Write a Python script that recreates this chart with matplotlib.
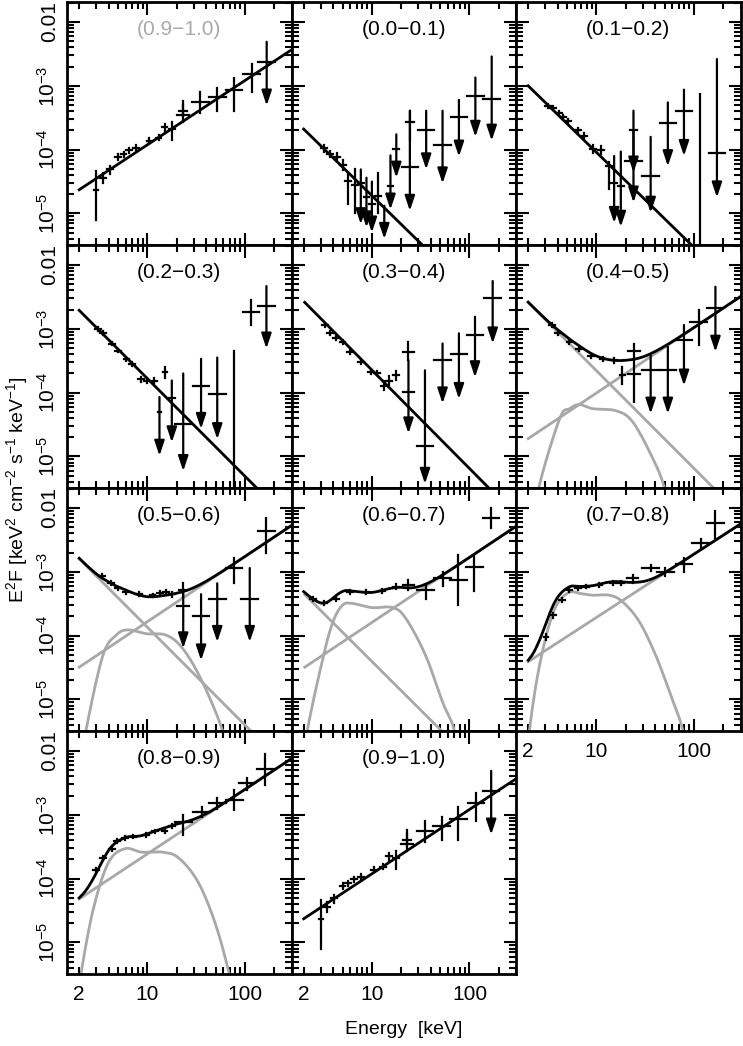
import numpy as np
import matplotlib
matplotlib.use("Agg")
import matplotlib.pyplot as plt
from matplotlib.ticker import FixedLocator, NullFormatter, FixedFormatter

plt.rcParams['font.family'] = ['Liberation Sans', 'DejaVu Sans']

# ---------------- data: (E [keV], log10 F, log10 upper, log10 lower/arrow tip, x half-width [dex], upper-limit flag)
P01 = [(3.2,-3.98,-3.93,-4.03,.03,0),(3.7,-4.07,-4.02,-4.12,.03,0),(4.4,-4.11,-4.05,-4.17,.03,0),
       (5.1,-4.24,-4.16,-4.32,.03,0),(5.7,-4.49,-4.36,-4.86,.03,0),(6.7,-4.56,-4.31,-5.0,.03,0),
       (7.7,-4.52,-4.31,-5.17,.03,1),(8.8,-4.75,-4.44,-5.22,.03,1),(10,-4.86,-4.5,-5.30,.03,1),
       (11.6,-4.72,-4.36,-5.0,.03,0),(13.4,-5.19,-4.88,-5.40,.03,1),(15.5,-4.57,-4.09,-4.94,.03,1),
       (17.8,-3.99,-3.76,-4.44,.03,1),(24.5,-3.57,-3.39,-3.86,.04,0),(24.5,-4.28,-3.39,-4.96,.085,1),
       (36,-3.69,-3.39,-4.31,.085,1),(53,-3.93,-3.39,-4.53,.085,1),(78,-3.49,-3.22,-4.11,.085,1),
       (115,-3.16,-2.87,-3.80,.085,1),(169,-3.21,-2.54,-3.86,.085,1)]
P12 = [(3.2,-3.31,-3.28,-3.34,.03,0),(3.6,-3.35,-3.32,-3.38,.03,0),(4.1,-3.42,-3.39,-3.45,.03,0),
       (4.6,-3.49,-3.46,-3.52,.03,0),(5.1,-3.55,-3.52,-3.58,.03,0),(6.5,-3.70,-3.66,-3.74,.03,0),
       (7.5,-3.78,-3.74,-3.82,.03,0),(9.2,-3.99,-3.93,-4.05,.03,0),(11.2,-4.01,-3.95,-4.07,.03,0),
       (13.6,-4.25,-4.20,-4.62,.03,0),(15.2,-4.52,-4.10,-5.15,.03,1),(17.8,-4.57,-4.03,-5.21,.03,1),
       (24,-3.70,-3.39,-4.36,.04,1),(24,-4.18,-3.70,-4.83,.085,1),(36,-4.42,-3.80,-4.99,.085,1),
       (54,-3.58,-3.26,-4.26,.085,1),(79,-3.40,-3.06,-4.10,.085,1),(115,np.nan,-3.13,-6.0,0,0),
       (172,-4.06,-2.58,-4.75,.085,1)]
P23 = [(3.1,-3.00,-2.97,-3.03,.03,0),(3.5,-3.07,-3.04,-3.10,.03,0),(4.3,-3.23,-3.20,-3.26,.03,0),
       (5.0,-3.34,-3.31,-3.37,.03,0),(6.1,-3.47,-3.44,-3.50,.03,0),(7.0,-3.55,-3.52,-3.58,.03,0),
       (8.6,-3.79,-3.75,-3.83,.03,0),(10,-3.81,-3.77,-3.85,.03,0),(11.8,-3.81,-3.77,-3.85,.03,0),
       (13.3,-4.31,-4.07,-4.99,.02,1),(15.2,-3.67,-3.60,-3.77,.02,0),(17.8,-4.09,-3.81,-4.78,.03,1),
       (23.3,-4.49,-3.70,-5.23,.085,1),(35.5,-3.89,-3.47,-4.57,.085,1),(52,-4.02,-3.45,-4.73,.085,1),
       (77,np.nan,-3.34,-6.0,0,0),(115,-2.73,-2.55,-2.94,.085,0),(166,-2.64,-2.33,-3.31,.085,1)]
P34 = [(3.3,-2.94,-2.91,-2.97,.03,0),(3.7,-3.07,-3.04,-3.10,.03,0),(4.3,-3.15,-3.12,-3.18,.03,0),
       (5.0,-3.21,-3.18,-3.24,.03,0),(5.9,-3.36,-3.33,-3.39,.03,0),(7.8,-3.52,-3.49,-3.55,.03,0),
       (9.8,-3.68,-3.65,-3.71,.03,0),(11.3,-3.69,-3.66,-3.72,.03,0),(13.4,-3.89,-3.82,-3.96,.03,0),
       (15.1,-3.81,-3.74,-3.88,.03,0),(17.6,-3.73,-3.66,-3.80,.03,0),(23.7,-3.36,-3.21,-3.49,.06,0),
       (23.7,-3.99,-3.49,-4.64,.06,1),(35,-4.83,-3.65,-5.43,.085,1),(53,-3.49,-3.23,-4.17,.085,1),
       (78,-3.40,-3.07,-4.10,.085,1),(114,-3.10,-2.81,-3.76,.085,1),(173,-2.52,-2.25,-3.23,.085,1)]
P45 = [(3.5,-2.94,-2.91,-2.97,.03,0),(4.0,-3.06,-3.03,-3.09,.03,0),(5.3,-3.21,-3.18,-3.24,.03,0),
       (6.7,-3.31,-3.28,-3.34,.03,0),(8.8,-3.42,-3.39,-3.45,.03,0),(11.6,-3.47,-3.44,-3.50,.03,0),
       (15.2,-3.49,-3.45,-3.53,.03,0),(18.5,-3.73,-3.60,-3.86,.03,0),(24.5,-3.35,-3.24,-3.45,.06,0),
       (24.5,-3.71,-3.47,-4.15,.06,0),(36,-3.65,-3.42,-4.33,.085,1),(54,-3.64,-3.28,-4.33,.085,1),
       (79,-3.18,-2.94,-3.89,.085,1),(112,-2.90,-2.71,-3.26,.085,0),(166,-2.68,-2.34,-3.36,.085,1)]
P56 = [(3.4,-3.06,-3.03,-3.09,.03,0),(4.2,-3.18,-3.15,-3.21,.03,0),(5.0,-3.26,-3.23,-3.29,.03,0),
       (6.0,-3.31,-3.28,-3.34,.03,0),(8.3,-3.35,-3.32,-3.38,.03,0),(11.3,-3.37,-3.34,-3.40,.03,0),
       (13.5,-3.33,-3.30,-3.36,.03,0),(15.5,-3.32,-3.29,-3.35,.03,0),(17.7,-3.35,-3.31,-3.39,.03,0),
       (23.3,-3.28,-3.18,-3.39,.04,0),(23.3,-3.53,-3.28,-4.20,.06,1),(35.5,-3.70,-3.35,-4.39,.085,1),
       (52,-3.42,-3.18,-4.10,.085,1),(77,-2.94,-2.79,-3.18,.085,0),(112,-3.42,-2.94,-4.10,.085,1),
       (166,-2.36,-2.16,-2.71,.085,0)]
P67 = [(2.5,-3.42,-3.39,-3.45,.03,0),(3.2,-3.49,-3.46,-3.52,.03,0),(4.3,-3.42,-3.39,-3.45,.03,0),
       (6.0,-3.32,-3.29,-3.35,.03,0),(8.7,-3.32,-3.29,-3.35,.03,0),(12.8,-3.30,-3.27,-3.33,.03,0),
       (17.5,-3.23,-3.19,-3.27,.03,0),(23.7,-3.21,-3.13,-3.28,.06,0),(35.5,-3.28,-3.20,-3.43,.085,0),
       (53,-3.09,-3.00,-3.22,.085,0),(77,-3.13,-2.74,-3.52,.085,0),(112,-2.92,-2.74,-3.30,.085,0),
       (166,-2.15,-2.00,-2.32,.085,0)]
P78 = [(3.06,-4.02,-3.97,-4.07,.02,0),(3.6,-3.68,-3.64,-3.72,.03,0),(4.4,-3.44,-3.41,-3.47,.03,0),
       (5.3,-3.28,-3.25,-3.31,.03,0),(6.5,-3.25,-3.22,-3.28,.03,0),(7.9,-3.23,-3.20,-3.26,.03,0),
       (10.6,-3.21,-3.18,-3.24,.03,0),(14.7,-3.18,-3.15,-3.21,.03,0),(17.8,-3.17,-3.14,-3.20,.03,0),
       (23.5,-3.10,-3.05,-3.17,.06,0),(36,-2.94,-2.90,-2.98,.085,0),(51,-3.00,-2.94,-3.07,.085,0),
       (79,-2.88,-2.78,-3.00,.085,0),(117,-2.55,-2.48,-2.63,.085,0),(166,-2.24,-2.05,-2.47,.085,0)]
P89 = [(3.0,-3.87,-3.84,-3.90,.03,0),(3.5,-3.68,-3.65,-3.71,.03,0),(4.3,-3.53,-3.50,-3.56,.03,0),
       (4.9,-3.41,-3.38,-3.44,.03,0),(5.9,-3.36,-3.33,-3.39,.03,0),(7.2,-3.34,-3.31,-3.37,.03,0),
       (9.7,-3.32,-3.29,-3.35,.03,0),(12,-3.26,-3.23,-3.29,.03,0),(15,-3.26,-3.23,-3.29,.03,0),
       (17.8,-3.18,-3.15,-3.21,.03,0),(23.4,-3.11,-3.00,-3.32,.085,0),(36,-2.95,-2.87,-3.03,.085,0),
       (52,-2.82,-2.74,-2.91,.085,0),(78,-2.77,-2.61,-2.92,.085,0),(105,-2.50,-2.42,-2.61,.085,0),
       (162,-2.28,-2.05,-2.53,.085,0)]
P91 = [(3.0,-4.64,-4.33,-5.10,.02,0),(3.5,-4.44,-4.37,-4.52,.03,0),(4.1,-4.31,-4.25,-4.38,.03,0),
       (5.0,-4.12,-4.07,-4.17,.03,0),(5.7,-4.07,-4.03,-4.11,.03,0),(6.5,-4.01,-3.97,-4.05,.03,0),
       (7.7,-3.97,-3.93,-4.01,.03,0),(10.5,-3.86,-3.82,-3.90,.03,0),(13,-3.81,-3.77,-3.85,.03,0),
       (15,-3.65,-3.60,-3.72,.03,0),(17.7,-3.68,-3.56,-3.85,.03,0),(23,-3.46,-3.23,-3.57,.06,0),
       (23,-3.39,-3.30,-3.48,.04,0),(35,-3.26,-3.10,-3.42,.085,0),(52,-3.18,-3.03,-3.39,.085,0),
       (77,-3.06,-2.87,-3.39,.085,0),(117,-2.81,-2.66,-3.09,.085,0),(167,-2.63,-2.31,-3.31,.085,1)]

# model components: power laws as end points (E, F); bumps as knots
SOFT = {'01': [(2, 2.1e-4), (31, 3.5e-6)], '12': [(2, 1.0e-3), (89, 3.5e-6)],
        '23': [(2, 1.95e-3), (132, 3.2e-6)], '34': [(2.05, 2.6e-3), (158, 3.2e-6)],
        '45': [(2, 2.6e-3), (159, 3.2e-6)], '56': [(2, 1.6e-3), (115, 3.2e-6)],
        '67': [(2.05, 4.4e-4), (49, 3.5e-6)]}
HARD = {'45': [(2, 1.9e-5), (245, 2.6e-3)], '56': [(2, 3.2e-5), (260, 4.6e-3)],
        '67': [(2.05, 3.2e-5), (251, 4.3e-3)], '78': [(2, 3.9e-5), (245, 4.6e-3)],
        '89': [(2, 4.8e-5), (245, 6.2e-3)], '91': [(2, 2.35e-5), (262, 3.2e-3)]}
BUMP = {'45': [(2.3, 8e-7), (2.6, 3.5e-6), (4.2, 3.9e-5), (5.3, 5.6e-5), (6.7, 6.5e-5), (9.2, 5.6e-5),
               (15.9, 5.2e-5), (23.5, 3.5e-5), (37, 1.0e-5), (49, 3.5e-6), (60, 8e-7)],
        '56': [(2.1, 8e-7), (2.37, 3.5e-6), (3.5, 4.9e-5), (4.8, 1.02e-4), (6.3, 1.23e-4), (9.8, 1.07e-4),
               (15.5, 1.02e-4), (23, 6.3e-5), (36.5, 1.9e-5), (59, 3.2e-6), (70, 8e-7)],
        '67': [(2.0, 8e-7), (2.2, 3.5e-6), (3.2, 4.9e-5), (4.0, 1.66e-4), (5.0, 3.0e-4), (6.3, 3.2e-4),
               (10, 2.75e-4), (16.3, 2.75e-4), (22.3, 1.86e-4), (35.5, 4.9e-5), (53, 9.1e-6),
               (69, 3.5e-6), (80, 8e-7)],
        '78': [(1.9, 8e-7), (2.07, 3.5e-6), (2.5, 2.4e-5), (3.2, 1.29e-4), (4.0, 3.2e-4), (5.3, 4.8e-4),
               (6.7, 4.6e-4), (9.2, 4.3e-4), (13.6, 4.3e-4), (18.5, 3.4e-4), (27.5, 1.66e-4),
               (40.6, 4.9e-5), (60, 1.0e-5), (76, 3.5e-6), (90, 8e-7)],
        '89': [(1.9, 8e-7), (2.1, 3.4e-6), (2.8, 3.4e-5), (4.0, 1.8e-4), (5.9, 2.95e-4), (8.7, 2.6e-4),
               (14.3, 2.6e-4), (21, 2.1e-4), (33, 8.9e-5), (49, 2.1e-5), (68, 3.5e-6), (80, 8e-7)]}

PANELS = [('(0.9\u22121.0)', '91', P91, 'gray'), ('(0.0\u22120.1)', '01', P01, 'k'), ('(0.1\u22120.2)', '12', P12, 'k'),
          ('(0.2\u22120.3)', '23', P23, 'k'), ('(0.3\u22120.4)', '34', P34, 'k'), ('(0.4\u22120.5)', '45', P45, 'k'),
          ('(0.5\u22120.6)', '56', P56, 'k'), ('(0.6\u22120.7)', '67', P67, 'k'), ('(0.7\u22120.8)', '78', P78, 'k'),
          ('(0.8\u22120.9)', '89', P89, 'k'), ('(0.9\u22121.0)', '91', P91, 'k')]

GRAY = '#a8a8a8'
W, H = 743, 1046
fig = plt.figure(figsize=(W / 100, H / 100), dpi=100)
X0, PW, Y0, PH = 67, 224.5, 2, 243


def smooth_knots(pts, n=30):
    """Catmull-Rom curve through the knots in log-log space."""
    x = np.log10([p[0] for p in pts]); y = np.log10([p[1] for p in pts])
    P = np.column_stack([x, y])
    P = np.vstack([2 * P[0] - P[1], P, 2 * P[-1] - P[-2]])
    out = []
    t = np.linspace(0, 1, n, endpoint=False)[:, None]
    for i in range(1, len(P) - 2):
        p0, p1, p2, p3 = P[i - 1], P[i], P[i + 1], P[i + 2]
        seg = 0.5 * ((2 * p1) + (-p0 + p2) * t + (2 * p0 - 5 * p1 + 4 * p2 - p3) * t ** 2
                     + (-p0 + 3 * p1 - 3 * p2 + p3) * t ** 3)
        out.append(seg)
    out.append(P[-2][None, :])
    out = np.vstack(out)
    return 10 ** out[:, 0], 10 ** out[:, 1]


def pl_eval(pts, e):
    (e1, f1), (e2, f2) = pts
    s = np.log10(f2 / f1) / np.log10(e2 / e1)
    return f1 * (e / e1) ** s


egrid = np.logspace(np.log10(2.0), np.log10(300), 400)

for i, (title, key, data, tcol) in enumerate(PANELS):
    r, c = divmod(i, 3)
    ax = fig.add_axes([(X0 + c * PW) / W, 1 - (Y0 + (r + 1) * PH) / H, PW / W, PH / H])
    ax.set_xscale('log'); ax.set_yscale('log')
    ax.set_xlim(1.5, 300); ax.set_ylim(3.2e-6, 2.06e-2)
    comps = []
    if key in SOFT: comps.append(('pl', SOFT[key]))
    if key in HARD: comps.append(('pl', HARD[key]))
    if key in BUMP: comps.append(('b', BUMP[key]))
    total = np.zeros_like(egrid)
    for kind, pts in comps:
        if kind == 'pl':
            vals = pl_eval(pts, egrid)
        else:
            bx, by = smooth_knots(pts)
            vals = 10 ** np.interp(np.log10(egrid), np.log10(bx), np.log10(by), left=-30, right=-30)
        total += vals
        if len(comps) > 1:
            if kind == 'pl':
                e = np.logspace(np.log10(pts[0][0]), np.log10(400), 50)
                ax.plot(e, pl_eval(pts, e), color=GRAY, lw=2, zorder=2)
            else:
                ax.plot(bx, by, color=GRAY, lw=2, zorder=2)
    if len(comps) == 1 and comps[0][0] == 'pl':
        e = np.logspace(np.log10(comps[0][1][0][0]), np.log10(400), 50)
        ax.plot(e, pl_eval(comps[0][1], e), color='k', lw=2, zorder=3)
    else:
        ax.plot(egrid, total, color='k', lw=2, zorder=3)
    for (E, lf, hi, lo, xw, ul) in data:
        if np.isnan(lf):
            ax.plot([E, E], [10 ** hi, 10 ** lo], color='k', lw=1.6, zorder=4)
            continue
        F = 10 ** lf
        ax.plot([E * 10 ** -xw, E * 10 ** xw], [F, F], color='k', lw=1.6, zorder=4)
        if ul:
            ax.annotate('', xy=(E, 10 ** lo), xytext=(E, 10 ** hi),
                        arrowprops=dict(arrowstyle='-|>,head_width=0.3,head_length=0.9', lw=1.6,
                                        color='k', shrinkA=0, shrinkB=0), zorder=4)
        else:
            ax.plot([E, E], [10 ** lo, 10 ** hi], color='k', lw=1.6, zorder=4)
    ax.text(0.5, 0.885, title, transform=ax.transAxes, ha='center', va='center', fontsize=15,
            color='k' if tcol == 'k' else '#aaaaaa')
    for s in ax.spines.values():
        s.set_linewidth(2)
    ax.tick_params(which='both', direction='in', top=True, right=True, width=1.5, labelsize=15)
    ax.tick_params(which='major', length=9)
    ax.tick_params(which='minor', length=5)
    ax.xaxis.set_major_locator(FixedLocator([10, 100]))
    ax.xaxis.set_minor_locator(FixedLocator([2, 3, 4, 5, 6, 7, 8, 9, 20, 30, 40, 50, 60, 70, 80, 90, 200, 300]))
    ax.yaxis.set_major_locator(FixedLocator([1e-5, 1e-4, 1e-3, 1e-2]))
    ax.yaxis.set_minor_locator(FixedLocator([m * 10.0 ** k for k in range(-6, -1) for m in range(2, 10)]))
    showx = (r == 3) or (r == 2 and c == 2)
    if showx:
        ax.xaxis.set_major_formatter(FixedFormatter(['10', '100']))
        ax.xaxis.set_minor_formatter(FixedFormatter(['2'] + [''] * 17))
        ax.tick_params(axis='x', which='both', pad=8)
    else:
        ax.xaxis.set_major_formatter(NullFormatter()); ax.xaxis.set_minor_formatter(NullFormatter())
    ax.yaxis.set_minor_formatter(NullFormatter())
    if c == 0:
        ax.yaxis.set_major_formatter(FixedFormatter(['$\\mathregular{10^{-5}}$', '$\\mathregular{10^{-4}}$',
                                                      '$\\mathregular{10^{-3}}$', '0.01']))
        ax.tick_params(axis='y', pad=6)
        for lab in ax.get_yticklabels():
            lab.set_rotation(90); lab.set_va('center')
    else:
        ax.yaxis.set_major_formatter(NullFormatter())

fig.text(404 / W, 1 - 1030 / H, 'Energy  [keV]', ha='center', va='center', fontsize=14)
fig.text(18 / W, 1 - 490 / H, 'E$^\\mathregular{2}$F [keV$^\\mathregular{2}$ cm$^\\mathregular{-2}$ s$^\\mathregular{-1}$ keV$^\\mathregular{-1}$]',
         ha='center', va='center', rotation=90, fontsize=14)
fig.savefig('out.png', dpi=100)
